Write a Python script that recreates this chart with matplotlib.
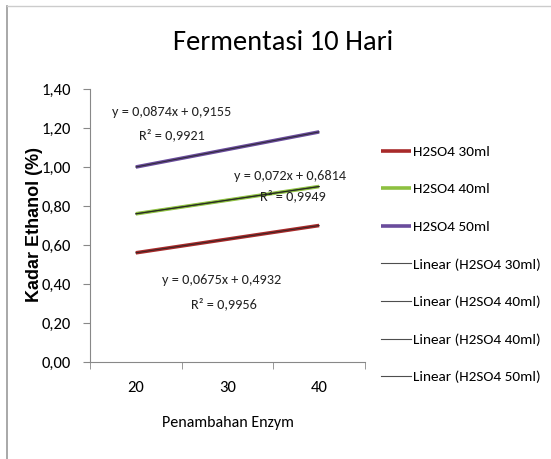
import numpy as np
import matplotlib
matplotlib.use("Agg")
import matplotlib.pyplot as plt
from matplotlib.lines import Line2D
from matplotlib.ticker import FixedLocator, FuncFormatter

plt.rcParams['font.family'] = ['Carlito', 'Lato', 'DejaVu Sans']

# data
enzym = ['20', '30', '40']
h2so4_30 = [0.56, 0.63, 0.70]
h2so4_40 = [0.76, 0.83, 0.90]
h2so4_50 = [1.00, 1.09, 1.18]
series = ['H2SO4 30ml', 'H2SO4 40ml', 'H2SO4 50ml']
colors = ['#A82A2A', '#8DC040', '#6A4C9C']
eq_lines = ['y = 0,0675x + 0,4932', 'y = 0,072x + 0,6814', 'y = 0,0874x + 0,9155']
r2_lines = ['R² = 0,9956', 'R² = 0,9949', 'R² = 0,9921']
eq_pos = [(0.29, 0.421), (1.075, 0.954), (-0.265, 1.282)]
r2_pos = [(0.605, 0.297), (1.35, 0.851), (0.03, 1.164)]

fig = plt.figure(figsize=(5.51, 4.59), dpi=100)
ax = fig.add_axes([0.1633, 0.2113, 0.4991, 0.5948])

x = np.arange(len(enzym))
handles = []
for vals, c, lbl in zip([h2so4_30, h2so4_40, h2so4_50], colors, series):
    h, = ax.plot(x, vals, color=c, lw=2.6, solid_capstyle='butt', label=lbl)
    handles.append(h)

# linear trend lines (Excel draws one per series; 40ml appears twice)
trend_src = [(h2so4_30, 'Linear (H2SO4 30ml)'), (h2so4_40, 'Linear (H2SO4 40ml)'),
             (h2so4_40, 'Linear (H2SO4 40ml)'), (h2so4_50, 'Linear (H2SO4 50ml)')]
for vals, lbl in trend_src:
    k, b = np.polyfit(x + 1, vals, 1)
    h, = ax.plot(x, k * (x + 1) + b, color='#222222', lw=0.8, alpha=0.8, label=lbl)
    handles.append(h)

for txt, (px, py) in zip(eq_lines, eq_pos):
    ax.text(px, py, txt, fontsize=10.3, color='#222222', va='center', ha='left')
for txt, (px, py) in zip(r2_lines, r2_pos):
    ax.text(px, py, txt, fontsize=10.3, color='#222222', va='center', ha='left')

ax.set_xlim(-0.5, 2.5)
ax.set_ylim(0, 1.4)
ax.set_yticks(np.arange(0, 1.41, 0.2))
ax.yaxis.set_major_formatter(FuncFormatter(lambda v, p: f'{v:.2f}'.replace('.', ',')))
ax.set_xticks(x)
ax.set_xticklabels(enzym)
ax.xaxis.set_minor_locator(FixedLocator([-0.5, 0.5, 1.5, 2.5]))
ax.tick_params(axis='x', which='major', length=0, pad=14, labelsize=12)
ax.tick_params(axis='x', which='minor', length=5, color='#888888', direction='out')
ax.tick_params(axis='y', length=5, color='#888888', labelsize=12, pad=9)
for s in ['top', 'right']:
    ax.spines[s].set_visible(False)
for s in ['left', 'bottom']:
    ax.spines[s].set_color('#888888')

ax.set_xlabel('Penambahan Enzym', fontsize=11.5, labelpad=15)
ax.set_ylabel('Kadar Ethanol (%)', fontsize=13, fontweight='bold',
              family='Liberation Sans')
ax.yaxis.set_label_coords(-0.172, 0.505)

fig.suptitle('Fermentasi 10 Hari', fontsize=20.5, x=0.5145, y=0.935)

fig.legend(handles=handles, loc='upper left', bbox_to_anchor=(0.68, 0.697),
           frameon=False, fontsize=11, handlelength=2.0, handletextpad=0.13,
           labelspacing=1.63, borderaxespad=0)

# outer frame (left and top edge of the chart area)
fig.add_artist(Line2D([0.013, 0.013], [0.0, 0.987], color='#9a9a9a', lw=1.2))
fig.add_artist(Line2D([0.013, 1.0], [0.987, 0.987], color='#cccccc', lw=1.0))

fig.savefig('out.png', dpi=100)
